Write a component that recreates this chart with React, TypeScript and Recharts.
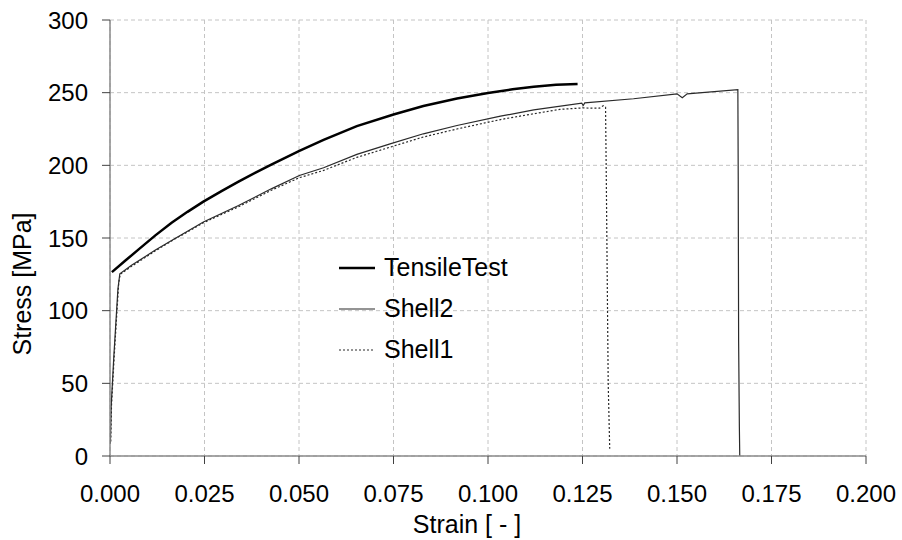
import React from "react";
import { LineChart, Line, XAxis, YAxis, CartesianGrid, Legend } from "recharts";

const tensileStrain = [0.0005, 0.004, 0.0075, 0.012, 0.0163, 0.0205, 0.0247, 0.0295, 0.034, 0.0385, 0.0428, 0.0501, 0.0565, 0.0653, 0.075, 0.0829, 0.0918, 0.1, 0.1065, 0.1121, 0.118, 0.1237];
const tensileStress = [126.5, 134.3, 142, 151.8, 160.5, 168, 175, 182.3, 188.8, 195, 200.6, 210, 217.5, 227, 235, 240.8, 246, 249.7, 252.3, 254, 255.4, 256];

const shell2Strain = [0.0001, 0.0003, 0.001, 0.0017, 0.0021, 0.0026, 0.0057, 0.0119, 0.0163, 0.0247, 0.034, 0.0428, 0.0501, 0.0565, 0.0653, 0.0741, 0.0829, 0.0918, 0.1033, 0.1121, 0.1248, 0.1252, 0.1256, 0.1385, 0.15, 0.1514, 0.1527, 0.1661, 0.1662, 0.1663, 0.1665, 0.1666];
const shell2Stress = [8.5, 33.7, 68, 98, 115, 125.4, 131.2, 141.5, 148.3, 161, 172.4, 184, 193, 198.3, 207.5, 214.8, 221.7, 227.4, 233.8, 238.2, 242.8, 241.2, 243, 245.8, 249.2, 246.5, 249.2, 252, 190, 80, 20, 0];

const shell1Strain = [0.0002, 0.0004, 0.0011, 0.0018, 0.0023, 0.0027, 0.0057, 0.0119, 0.0163, 0.0247, 0.034, 0.0428, 0.0501, 0.0565, 0.0653, 0.0741, 0.0829, 0.0918, 0.1033, 0.1121, 0.119, 0.125, 0.1295, 0.1305, 0.1311, 0.1313, 0.1318, 0.1322];
const shell1Stress = [10, 35, 68, 98, 119, 125, 130.5, 141, 148, 160.5, 171.5, 183, 191.5, 196.5, 205.5, 212.5, 219.5, 225, 231.5, 235.5, 238.5, 239.5, 239.3, 241, 240, 190, 50, 5];

const xTicks = [0, 0.025, 0.05, 0.075, 0.1, 0.125, 0.15, 0.175, 0.2];
const yTicks = [0, 50, 100, 150, 200, 250, 300];

const seriesNames = ["TensileTest", "Shell2", "Shell1"];

const toPoints = (xs: number[], ys: number[]) => xs.map((x, i) => ({ x, y: ys[i] }));

const tensileData = toPoints(tensileStrain, tensileStress);
const shell2Data = toPoints(shell2Strain, shell2Stress);
const shell1Data = toPoints(shell1Strain, shell1Stress);

const FONT = "'Liberation Sans', Arial, sans-serif";

const legendStyles: Record<string, { stroke: string; width: number; dash?: string }> = {
  TensileTest: { stroke: "#000", width: 2.5 },
  Shell2: { stroke: "#2a2a2a", width: 1.2 },
  Shell1: { stroke: "#2a2a2a", width: 1.2, dash: "2 2" },
};

const LegendContent = () => (
  <div style={{ fontFamily: FONT, fontSize: 25, color: "#000" }}>
    {seriesNames.map((n) => {
      const s = legendStyles[n];
      return (
        <div key={n} style={{ display: "flex", alignItems: "center", height: 41 }}>
          <svg width={45} height={10}>
            <line x1={0} y1={5} x2={36} y2={5} stroke={s.stroke} strokeWidth={s.width} strokeDasharray={s.dash} />
          </svg>
          <span>{n}</span>
        </div>
      );
    })}
  </div>
);

const XTitle = (props: any) => {
  const vb = props.viewBox;
  return (
    <text x={vb.x + vb.width / 2 - 21} y={vb.y + 77} textAnchor="middle" fontFamily={FONT} fontSize={25} fill="#000">
      Strain [ - ]
    </text>
  );
};

const YTitle = (props: any) => {
  const vb = props.viewBox;
  const cx = 31;
  const cy = vb.y + vb.height / 2 + 46;
  return (
    <text x={cx} y={cy} textAnchor="middle" fontFamily={FONT} fontSize={25} fill="#000" transform={`rotate(-90, ${cx}, ${cy})`}>
      Stress [MPa]
    </text>
  );
};

export default function App() {
  return (
    <div style={{ position: "absolute", left: 0, top: 0, background: "#fff" }}>
      <LineChart width={902} height={540} margin={{ top: 20, right: 36, left: 30, bottom: 24 }}>
        <CartesianGrid stroke="#c4c4c4" strokeDasharray="4 3" />
        <XAxis
          type="number"
          dataKey="x"
          domain={[0, 0.2]}
          ticks={xTicks}
          tickFormatter={(v: number) => v.toFixed(3)}
          height={60}
          tickSize={8}
          tickMargin={21}
          axisLine={{ stroke: "#8a8a8a", strokeWidth: 1.5 }}
          tickLine={{ stroke: "#404040" }}
          tick={{ fill: "#000", fontSize: 24, fontFamily: FONT }}
          allowDataOverflow
          label={<XTitle />}
        />
        <YAxis
          type="number"
          dataKey="y"
          domain={[0, 300]}
          ticks={yTicks}
          width={80}
          tickSize={8}
          tickMargin={14}
          axisLine={{ stroke: "#8a8a8a", strokeWidth: 1.5 }}
          tickLine={{ stroke: "#404040" }}
          tick={{ fill: "#000", fontSize: 24, fontFamily: FONT }}
          allowDataOverflow
          label={<YTitle />}
        />
        <Legend
          layout="vertical"
          align="center"
          verticalAlign="middle"
          content={<LegendContent />}
          wrapperStyle={{ position: "absolute", left: 339, top: 247, width: 220 }}
        />
        <Line data={shell1Data} dataKey="y" name="Shell1" type="linear" stroke="#2a2a2a" strokeWidth={1.2} strokeDasharray="2 2" dot={false} activeDot={false} isAnimationActive={false} />
        <Line data={shell2Data} dataKey="y" name="Shell2" type="linear" stroke="#2a2a2a" strokeWidth={1.2} dot={false} activeDot={false} isAnimationActive={false} />
        <Line data={tensileData} dataKey="y" name="TensileTest" type="linear" stroke="#000" strokeWidth={2.5} dot={false} activeDot={false} isAnimationActive={false} />
      </LineChart>
    </div>
  );
}
